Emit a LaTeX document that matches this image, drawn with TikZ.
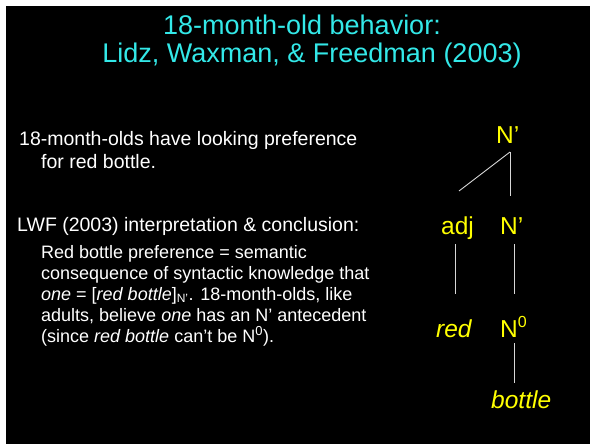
\documentclass[tikz,border=0pt]{standalone}
\usepackage{fontspec}
\setmainfont{Liberation Sans}
\definecolor{titlecyan}{RGB}{51,232,232}
\definecolor{treeyellow}{RGB}{255,255,0}
\definecolor{branchgrey}{RGB}{215,215,215}
\begin{document}
\begin{tikzpicture}[x=1pt,y=-1pt,
  txt/.style={inner sep=0pt,anchor=base west},
  title/.style={txt,anchor=base,text=titlecyan,font=\fontsize{27}{27}\selectfont},
  body/.style={txt,text=white,font=\fontsize{19.5}{22}\selectfont},
  sub/.style={txt,text=white,font=\fontsize{18}{21}\selectfont},
  lab/.style={txt,text=treeyellow,font=\fontsize{24.5}{24.5}\selectfont},
  branch/.style={draw=branchgrey,line width=0.9pt}]
% page frame
\fill[white] (0,0) rectangle (590,444);
\fill[black] (6,6) rectangle (590,444);
\useasboundingbox (0,0) rectangle (590,444);

% heading
\node[title] (t1) at (302,35) {18-month-old behavior:};
\node[title] (t2) at (312,63) {Lidz, Waxman, \& Freedman (2003)};

% left column text
\node[body] (b1) at (19,146) {18-month-olds have looking preference};
\node[body] (b2) at (41,168) {for red bottle.};
\node[body] (b3) at (17,231) {LWF (2003) interpretation \& conclusion:};
\node[sub] (s1) at (41,258) {Red bottle preference = semantic};
\node[sub] (s2) at (41,279) {consequence of syntactic knowledge that};
\node[sub] (s3) at (41,300) {\textit{one} = [\textit{red bottle}]$_{\mbox{\fontsize{12}{12}\selectfont N’}}$. 18-month-olds, like};
\node[sub] (s4) at (41,321) {adults, believe \textit{one} has an N’ antecedent};
\node[sub] (s5) at (41,342) {(since \textit{red bottle} can’t be N$^{\mbox{\fontsize{13}{13}\selectfont 0}}$).};

% phrase-structure tree
\node[lab] (top) at (496,143) {N’};
\node[lab] (adj) at (441,234) {adj};
\node[lab] (mid) at (500,234) {N’};
\node[lab] (red) at (436,337) {\textit{red}};
\node[lab] (head) at (500,337) {N$^{\mbox{\fontsize{16}{16}\selectfont 0}}$};
\node[lab] (word) at (491,408) {\textit{bottle}};

\draw[branch] ([shift={(14,9)}]top.base west) -- ([shift={(18,-43)}]adj.base west);
\draw[branch] ([shift={(14,9)}]top.base west) -- ([shift={(10,-38)}]mid.base west);
\draw[branch] ([shift={(14,10)}]adj.base west) -- ([shift={(19,-43)}]red.base west);
\draw[branch] ([shift={(14,10)}]mid.base west) -- ([shift={(14,-43)}]head.base west);
\draw[branch] ([shift={(14,6)}]head.base west) -- ([shift={(23,-25)}]word.base west);
\end{tikzpicture}
\end{document}
